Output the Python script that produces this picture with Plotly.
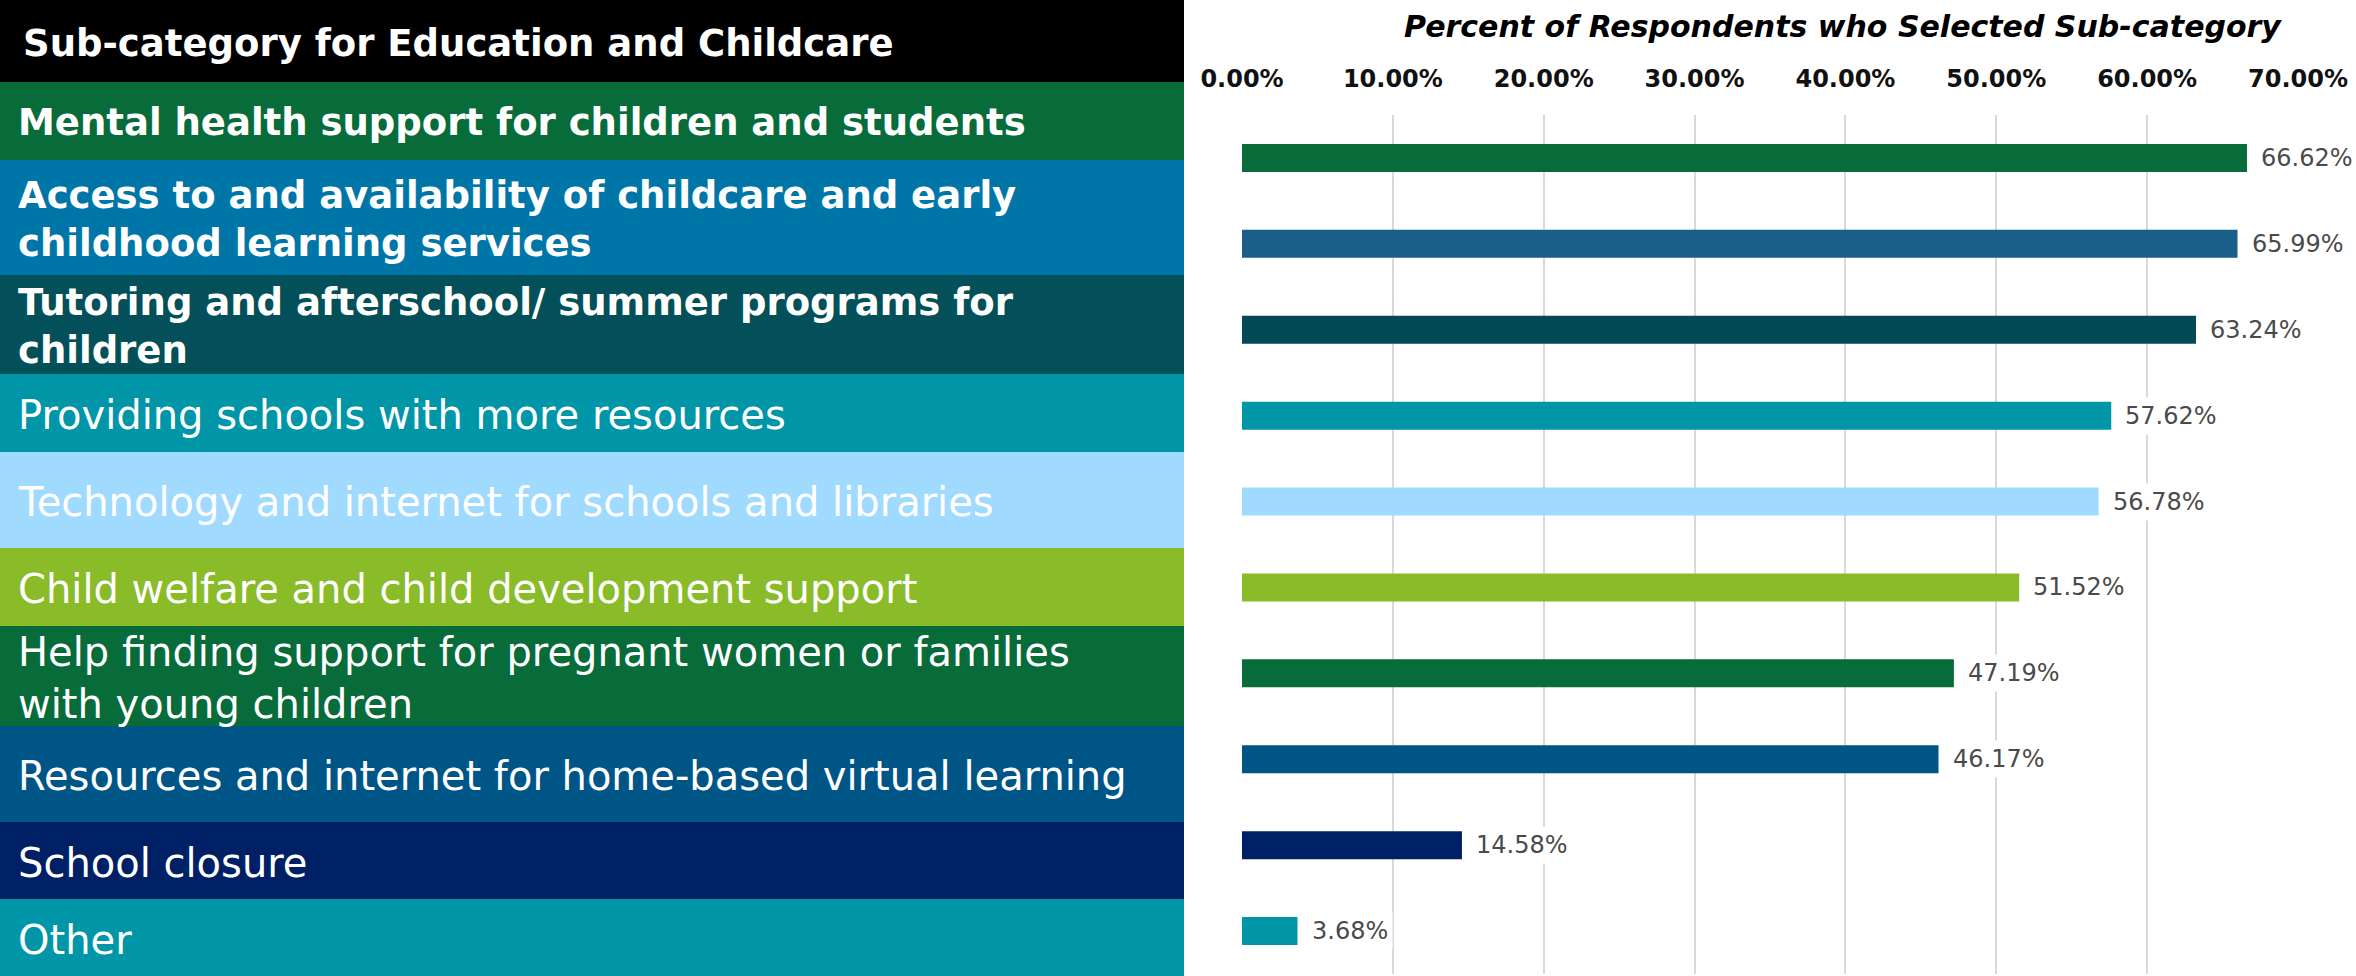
import plotly.graph_objects as go

W, H = 2356, 976

# rows of the left-hand table, top to bottom (same order as bars)
categories = [
    "Mental health support for children and students",
    "Access to and availability of childcare and early<br>childhood learning services",
    "Tutoring and afterschool/ summer programs for<br>children",
    "Providing schools with more resources",
    "Technology and internet for schools and libraries",
    "Child welfare and child development support",
    "Help finding support for pregnant women or families<br>with young children",
    "Resources and internet for home-based virtual learning",
    "School closure",
    "Other",
]
values = [0.6662, 0.6599, 0.6324, 0.5762, 0.5678, 0.5152, 0.4719, 0.4617, 0.1458, 0.0368]
bold_rows = [True, True, True, False, False, False, False, False, False, False]

row_colors = ["#076B3A", "#0076A8", "#034F5A", "#0096A8", "#A0DBFF",
              "#89BC28", "#076B3A", "#005587", "#002066", "#0096A8"]
bar_colors = ["#076B3A", "#1A5F8A", "#034A55", "#0096A8", "#A0DBFF",
              "#89BC28", "#076B3A", "#005587", "#002066", "#0096A8"]

x_ticks = [0, 0.1, 0.2, 0.3, 0.4, 0.5, 0.6, 0.7]

header_text = "Sub-category for Education and Childcare"
axis_title = "Percent of Respondents who Selected Sub-category"

# pixel edges of table rows (header first)
row_edges = [0, 82, 160, 275, 374, 452, 548, 626, 726, 822, 899, 976]
TABLE_RIGHT = 1184
FONT = "DejaVu Sans"


def px_x(x):
    return x / W


def px_y(y):
    return (H - y) / H


fig = go.Figure()
fig.add_trace(go.Bar(
    x=values,
    y=list(range(len(values))),
    orientation="h",
    marker=dict(color=bar_colors, line=dict(width=0)),
    width=0.326,
    hoverinfo="x",
))

shapes = []
annotations = []

# header cell
shapes.append(dict(type="rect", xref="paper", yref="paper", layer="below",
                   x0=0, x1=px_x(TABLE_RIGHT), y0=px_y(row_edges[1]), y1=px_y(row_edges[0]),
                   fillcolor="#000000", line=dict(width=0)))
annotations.append(dict(xref="paper", yref="paper", x=px_x(21), y=px_y(43),
                        xanchor="left", yanchor="middle", showarrow=False,
                        text=header_text,
                        font=dict(family=FONT, size=37, color="white", weight="bold")))

for i, (label, col, b) in enumerate(zip(categories, row_colors, bold_rows)):
    top, bot = row_edges[i + 1], row_edges[i + 2]
    shapes.append(dict(type="rect", xref="paper", yref="paper", layer="below",
                       x0=0, x1=px_x(TABLE_RIGHT), y0=px_y(bot), y1=px_y(top),
                       fillcolor=col, line=dict(width=0)))
    annotations.append(dict(xref="paper", yref="paper", x=px_x(16), y=px_y((top + bot) / 2 + 2),
                            xanchor="left", yanchor="middle", align="left", showarrow=False,
                            text=label,
                            font=dict(family=FONT, size=37 if b else 40, color="white",
                                      weight="bold" if b else "normal")))

# value labels with white boxes that break the gridlines
for i, v in enumerate(values):
    annotations.append(dict(x=v, y=i, xref="x", yref="y", xanchor="left", yanchor="middle",
                            xshift=9, showarrow=False, text=f"{v * 100:.2f}%",
                            bgcolor="white", borderpad=4,
                            font=dict(family=FONT, size=24, color="#4A4A4A")))

annotations.append(dict(xref="paper", yref="paper", x=px_x(1843), y=px_y(26),
                        xanchor="center", yanchor="middle", showarrow=False,
                        text=f"<i>{axis_title}</i>",
                        font=dict(family=FONT, size=30, color="black", weight="bold")))

fig.update_layout(
    template="none",
    width=W, height=H,
    margin=dict(l=0, r=0, t=0, b=0, pad=0, autoexpand=False),
    paper_bgcolor="white", plot_bgcolor="white",
    showlegend=False,
    shapes=shapes,
    annotations=annotations,
    xaxis=dict(domain=[px_x(1242), px_x(2298)], range=[0, 0.7], side="top",
               tickvals=x_ticks, tickformat=".2%", automargin=False,
               tickfont=dict(family=FONT, size=24, color="#111111", weight="bold"),
               showgrid=True, gridcolor="#D9D9D9", gridwidth=2,
               zeroline=False, showline=False, ticks="", ticklabelstandoff=22),
    yaxis=dict(domain=[px_y(974), px_y(115)], range=[9.5, -0.5], automargin=False,
               showticklabels=False, showgrid=False, zeroline=False, showline=False),
)

# drop the browser's default 8px body margin so the figure sits at the window origin
fig.write_html("out.html", config={"displayModeBar": False},
               post_script="document.body.style.margin='0';")
